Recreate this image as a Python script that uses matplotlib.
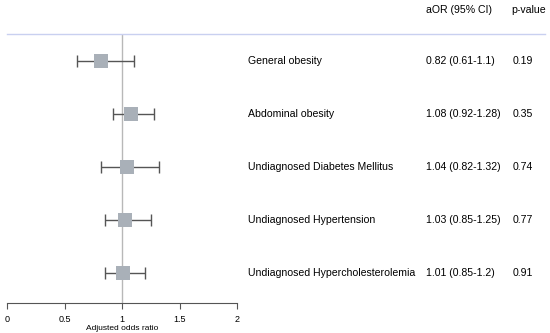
import matplotlib
matplotlib.use("Agg")
import matplotlib.pyplot as plt
from matplotlib.transforms import blended_transform_factory

labels = ["General obesity", "Abdominal obesity", "Undiagnosed Diabetes Mellitus",
          "Undiagnosed Hypertension", "Undiagnosed Hypercholesterolemia"]
aor = [0.82, 1.08, 1.04, 1.03, 1.01]
lo = [0.61, 0.92, 0.82, 0.85, 0.85]
hi = [1.10, 1.28, 1.32, 1.25, 1.20]
ci_text = ["0.82 (0.61-1.1)", "1.08 (0.92-1.28)", "1.04 (0.82-1.32)",
           "1.03 (0.85-1.25)", "1.01 (0.85-1.2)"]
pvals = ["0.19", "0.35", "0.74", "0.77", "0.91"]
xticks = [0, 0.5, 1, 1.5, 2]
xticklabels = ["0", "0.5", "1", "1.5", "2"]

plt.rcParams['font.family'] = ['Liberation Sans', 'DejaVu Sans']
W, H = 550, 333
fig = plt.figure(figsize=(5.5, 3.33), dpi=100)
ax = fig.add_axes([7 / W, (H - 303) / H, 230 / W, 269 / H])
ax.set_xlim(0, 2)
ax.set_ylim(4.57, -0.51)

ypos = list(range(len(labels)))
ax.axvline(1, color="#b8b8b8", lw=1, zorder=1)
ax.errorbar(aor, ypos, xerr=[[a - l for a, l in zip(aor, lo)], [h - a for a, h in zip(aor, hi)]],
            fmt="none", ecolor="#555555", elinewidth=1, capsize=4, capthick=1, zorder=2)
ax.scatter(aor, ypos, marker="s", s=110, color="#a9b0b8", zorder=3, linewidths=0)

for s in ["top", "right", "left"]:
    ax.spines[s].set_visible(False)
ax.spines["bottom"].set_color("#555555")
ax.spines["bottom"].set_linewidth(0.8)
ax.set_yticks([])
ax.set_xticks(xticks)
ax.set_xticklabels(xticklabels, fontsize=6.5)
ax.tick_params(axis="x", length=4, width=0.8, color="#555555", pad=5)
ax.set_xlabel("Adjusted odds ratio", fontsize=6, labelpad=0)

tr = blended_transform_factory(fig.transFigure, ax.transData)
fs = 7.6
for i in ypos:
    ax.text(248 / W, i, labels[i], transform=tr, fontsize=fs, va="center", ha="left")
    ax.text(426 / W, i, ci_text[i], transform=tr, fontsize=fs, va="center", ha="left")
    ax.text(513 / W, i, pvals[i], transform=tr, fontsize=fs, va="center", ha="left")

fig.text(426 / W, 1 - 10 / H, "aOR (95% CI)", fontsize=fs, va="center", ha="left")
fig.text(511 / W, 1 - 10 / H, "p-value", fontsize=fs, va="center", ha="left")
fig.add_artist(plt.Line2D([7 / W, 545 / W], [1 - 34 / H, 1 - 34 / H], color="#c9d0f0", lw=1))

fig.savefig("out.png", dpi=100)
